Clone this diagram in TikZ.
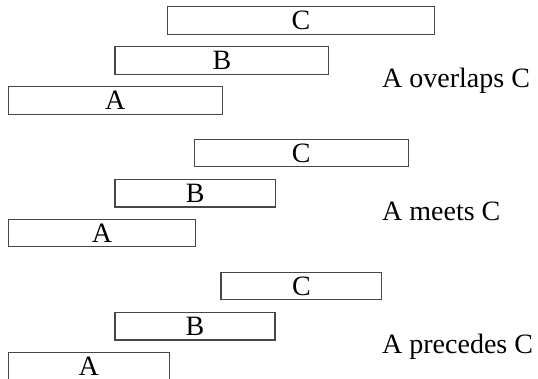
\documentclass[tikz,border=0pt]{standalone}
\usepackage{fontspec}
\setmainfont{Liberation Serif}
\begin{document}
\begin{tikzpicture}[x=1pt,y=-1pt,
  bar/.style={draw=black!72, line width=1.1pt, inner sep=0pt, minimum height=27.5pt,
    font=\fontsize{28}{30}\selectfont},
  caption/.style={inner sep=0pt, anchor=base west, font=\fontsize{28}{30}\selectfont}]
\useasboundingbox (0,0) rectangle (538,379);
% group 1: overlaps
\node[bar, minimum width=267.4pt] (c1) at (301,20.5) {C};
\node[bar, minimum width=213.7pt] (b1) at (221.85,60.4) {B};
\node[bar, minimum width=214pt] (a1) at (115.3,100.4) {A};
\node[caption] (t1) at (382,87.5) {A overlaps C};
% group 2: meets
\node[bar, minimum width=214pt] (c2) at (301.3,153) {C};
\node[bar, minimum width=160.3pt] (b2) at (195.15,193.3) {B};
\node[bar, minimum width=187.4pt] (a2) at (102,233) {A};
\node[caption] (t2) at (382,220.3) {A meets C};
% group 3: precedes
\node[bar, minimum width=160.7pt] (c3) at (301.35,286.2) {C};
\node[bar, minimum width=160pt] (b3) at (195,326.2) {B};
\node[bar, minimum width=161pt] (a3) at (88.8,366.2) {A};
\node[caption] (t3) at (382,353.3) {A precedes C};
\end{tikzpicture}
\end{document}
